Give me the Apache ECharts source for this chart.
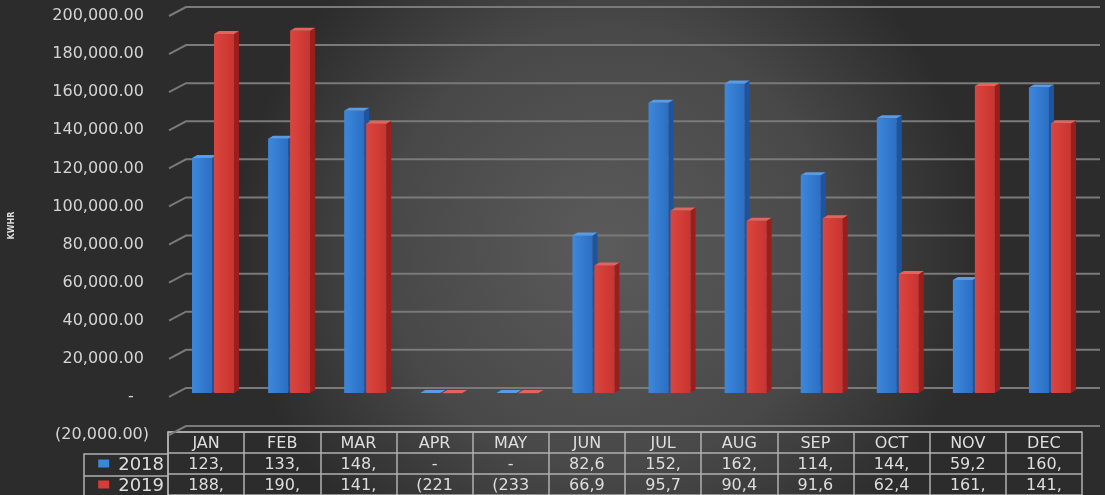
<!DOCTYPE html>
<html><head><meta charset="utf-8">
<script src="https://cdn.jsdelivr.net/npm/echarts/dist/echarts.min.js"></script>
<style>html,body{margin:0;padding:0;background:#333}#c{width:1105px;height:495px}</style>
</head><body><div id="c"></div>
<script>
// ---- data ----
const months = ['JAN','FEB','MAR','APR','MAY','JUN','JUL','AUG','SEP','OCT','NOV','DEC'];
const seriesNames = ['2018','2019'];
const values2018 = [123400,133500,148200,0,0,82650,152300,162400,114300,144200,59250,160300];
const values2019 = [188500,190200,141300,-221.5,-233.4,66950,95750,90450,91650,62450,161200,141400];
const yTicks = [-20000,0,20000,40000,60000,80000,100000,120000,140000,160000,180000,200000];
const axisTitle = 'KWHR';

// ---- helpers ----
function fmtNum(a){
  const s = a.toFixed(2); const parts = s.split('.');
  return parts[0].replace(/\B(?=(\d{3})+(?!\d))/g, ',') + '.' + parts[1];
}
function acc(v){
  if (Math.abs(v) < 0.005) return '-';
  const s = fmtNum(Math.abs(v));
  return v < 0 ? '(' + s + ')' : s;
}
function cellText(v){ return acc(v).slice(0,4); }

const FONT = 'DejaVu Sans';
const TXT = '#dedede';
const LIFT = 4, DX = 5, DY = -3;

const palette = [
  {front:[ '#3d88dc','#2b6fc4'], side:'#1e549f', top:'#5a9be6', l:-15, r:5, key:'#3a86d8'},
  {front:[ '#dc453f','#c83430'], side:'#9a1f1c', top:'#e6635d', l:7, r:27, key:'#d83c36'}
];

function barRender(p){
  return function(params, api){
    const i = api.value(0), v = api.value(1);
    const c = api.coord([i, v]);
    const b = api.coord([i, 0]);
    const yTop = c[1] - LIFT, yBase = b[1] - LIFT;
    const top = Math.min(yTop, yBase), bot = Math.max(yTop, yBase);
    const x0 = c[0] + p.l, x1 = c[0] + p.r;
    return {type:'group', children:[
      {type:'polygon', shape:{points:[[x1,top],[x1+DX,top+DY],[x1+DX,bot+DY],[x1,bot]]}, style:{fill:p.side}},
      {type:'rect', shape:{x:x0, y:top, width:x1-x0, height:bot-top},
        style:{fill:new echarts.graphic.LinearGradient(0,0,1,0,[{offset:0,color:p.front[0]},{offset:1,color:p.front[1]}])}},
      {type:'polygon', shape:{points:[[x0,top],[x1,top],[x1+DX,top+DY],[x0+DX,top+DY]]}, style:{fill:p.top}}
    ]};
  };
}

function gridRender(params, api){
  const v = api.value(1);
  const band = api.size([1,0])[0];
  const y = api.coord([0, v])[1];
  const L = api.coord([0, v])[0] - band/2;
  const R = api.coord([months.length-1, v])[0] + band/2 + 18;
  return {type:'polyline', shape:{points:[[L,y],[L+17,y-9],[R,y-9]]},
    style:{stroke:'#7a7a7a', lineWidth:2, fill:null}};
}

function tableRender(params, api){
  const i = api.value(0);
  const rows = [months[i], cellText(values2018[i]), cellText(values2019[i])];
  return {type:'group', children: rows.map((t, r) => {
    const p = api.coord([i, r]);
    return {type:'text', x:p[0], y:p[1]+1, style:{text:t, fill:TXT, font:'16px "'+FONT+'"', align:'center', verticalAlign:'middle'}};
  })};
}

const chart = echarts.init(document.getElementById('c'), null, {renderer:'canvas'});
chart.setOption({
  backgroundColor: {type:'radial', x:0.55, y:0.5, r:0.75,
    colorStops:[{offset:0,color:'#5b5b5b'},{offset:0.6,color:'#484848'},{offset:1,color:'#2c2c2c'}]},
  animation:false,
  grid:[
    {left:168, right:23, top:16, bottom:60},
    {left:168, right:23, top:432, height:66}
  ],
  xAxis:[
    {type:'category', data:months, gridIndex:0, boundaryGap:true, show:false},
    {type:'category', data:months, gridIndex:1, boundaryGap:true, position:'top',
      axisLine:{show:true, lineStyle:{color:'#b0b0b0', width:1.5}}, axisTick:{show:false}, axisLabel:{show:false},
      splitLine:{show:true, interval:0, lineStyle:{color:'#b0b0b0', width:1.5}}}
  ],
  yAxis:[
    {type:'value', gridIndex:0, min:-20000, max:200000, interval:20000,
      splitLine:{show:false}, axisLine:{show:false}, axisTick:{show:false},
      axisLabel:{color:'#d4d4d4', fontSize:16, fontFamily:FONT, margin:20,
        formatter: v => v === 0 ? '-   ' : (v < 0 ? acc(v) : acc(v) + ' ')},
      name:axisTitle, nameLocation:'middle', nameGap:153, nameRotate:90,
      nameTextStyle:{color:'#dddddd', fontSize:8, fontWeight:'bold', fontFamily:FONT}},
    {type:'category', gridIndex:1, data:['', seriesNames[0], seriesNames[1]], inverse:true,
      axisLine:{show:true, lineStyle:{color:'#b0b0b0', width:1.5}}, axisTick:{show:false},
      splitLine:{show:true, interval:0, lineStyle:{color:'#b0b0b0', width:1.5}},
      axisLabel:{margin:4, interval:0,
        formatter: (v, idx) => v ? '{k' + idx + '|}{t|' + v + '}' : '',
        rich:{
          k1:{width:11, height:8, backgroundColor:palette[0].key},
          k2:{width:11, height:8, backgroundColor:palette[1].key},
          t:{color:TXT, fontSize:18, fontFamily:FONT, padding:[3,0,0,9]}
        }}}
  ],
  series:[
    {type:'custom', name:'grid', xAxisIndex:0, yAxisIndex:0, renderItem:gridRender, z:1,
      data: yTicks.map(v => [0, v]), silent:true},
    {type:'custom', name:seriesNames[0], xAxisIndex:0, yAxisIndex:0, renderItem:barRender(palette[0]), z:2,
      data: values2018.map((v,i) => [i, v])},
    {type:'custom', name:seriesNames[1], xAxisIndex:0, yAxisIndex:0, renderItem:barRender(palette[1]), z:3,
      data: values2019.map((v,i) => [i, v])},
    {type:'custom', name:'table', xAxisIndex:1, yAxisIndex:1, renderItem:tableRender, z:4,
      data: months.map((m,i) => [i, 0])}
  ],
  graphic:[
    {type:'polyline', shape:{points:[[168,454],[84,454],[84,500]]}, style:{stroke:'#b0b0b0', lineWidth:1.5, fill:null}},
    {type:'line', shape:{x1:84, y1:476, x2:168, y2:476}, style:{stroke:'#b0b0b0', lineWidth:1.5}}
  ]
});
</script></body></html>
